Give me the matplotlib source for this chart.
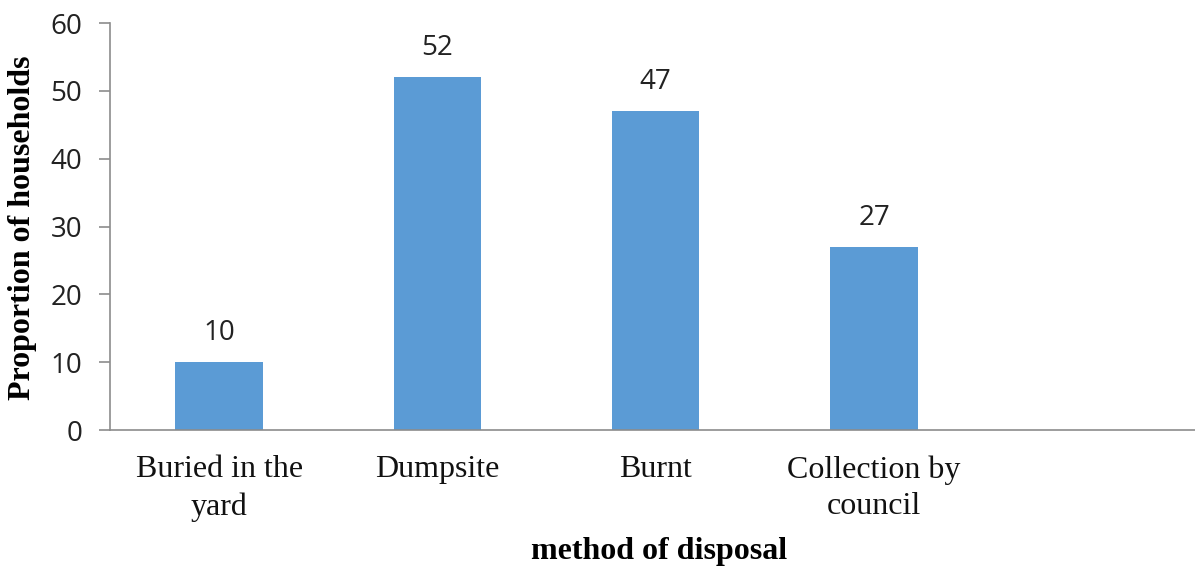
import matplotlib
matplotlib.use("Agg")
import matplotlib.pyplot as plt

categories = ["Buried in the\nyard", "Dumpsite", "Burnt", "Collection by\ncouncil", ""]
values = [10, 52, 47, 27, None]
yticks = [0, 10, 20, 30, 40, 50, 60]

bar_color = "#5B9BD5"
axis_color = "#8C8C8C"

fig = plt.figure(figsize=(11.95, 5.67), dpi=100)
ax = fig.add_axes([0.092, 0.2416, 0.908, 0.7178])

xs = list(range(len(categories)))
bx = [x for x, v in zip(xs, values) if v is not None]
bv = [v for v in values if v is not None]
bars = ax.bar(bx, bv, width=0.4, color=bar_color, zorder=2)
for x, v in zip(bx, bv):
    ax.annotate(f"{v}", (x, v), xytext=(0, 11), textcoords="offset points",
                ha="center", va="bottom", fontsize=20, family="Open Sans", color="#222222")

ax.set_xlim(-0.5, 4.5 - 0.03)
ax.set_ylim(0, 60)
ax.set_yticks(yticks)
ax.set_yticklabels([str(t) for t in yticks], fontsize=20, family="Open Sans", color="#222222")
ax.set_xticks(xs)
ax.set_xticklabels(categories, fontsize=23, family="Liberation Serif", color="#111111",
                   linespacing=1.36)
ax.tick_params(axis="x", length=0, pad=18)
ax.tick_params(axis="y", length=8, color=axis_color, width=1.2, pad=12)

for s in ["top", "right"]:
    ax.spines[s].set_visible(False)
for s in ["left", "bottom"]:
    ax.spines[s].set_color(axis_color)
    ax.spines[s].set_linewidth(1.2)

ax.set_xlabel("method of disposal", fontsize=23, family="Liberation Serif",
              fontweight="bold")
ax.set_ylabel("Proportion of households", fontsize=23, family="Liberation Serif",
              fontweight="bold")
ax.xaxis.set_label_coords((659 - 110) / (1195 * 0.908), -(537 - 430) / (567 * 0.7178))
ax.yaxis.set_label_coords(-(110 - 37) / (1195 * 0.908), (430 - 228) / (567 * 0.7178))

fig.savefig("out.png", dpi=100)
